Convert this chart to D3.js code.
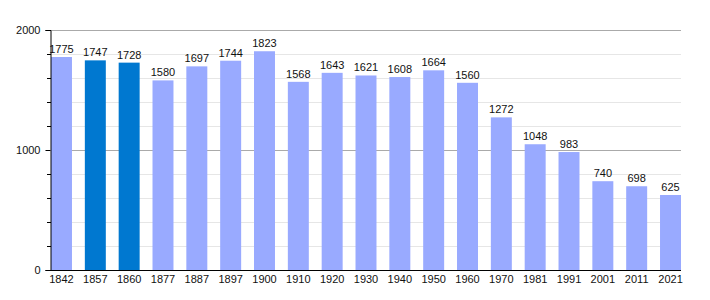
<!DOCTYPE html>
<html>
<head>
<meta charset="utf-8">
<script src="https://cdn.jsdelivr.net/npm/d3@7"></script>
<style>
  body { margin: 0; background: #fff; }
  svg text { font-family: "Liberation Sans", Arial, sans-serif; font-size: 11px; fill: #111; }
</style>
</head>
<body>
<svg id="chart" width="710" height="300"></svg>
<script>
// census years and population
const years = ['1842', '1857', '1860', '1877', '1887', '1897', '1900', '1910', '1920', '1930',
    '1940', '1950', '1960', '1970', '1981', '1991', '2001', '2011', '2021']
const population = [1775, 1747, 1728, 1580, 1697, 1744, 1823, 1568, 1643, 1621,
    1608, 1664, 1560, 1272, 1048, 983, 740, 698, 625]
const highlighted = ['1857', '1860']
const yTicks = [0, 1000, 2000]
const yMinor = [200, 400, 600, 800, 1200, 1400, 1600, 1800]

const svg = d3.select('#chart')
const plotLeft = 51, plotRight = 681, plotTop = 30, plotBottom = 270

let x = d3.scaleBand().domain(years).range([plotLeft, plotRight]).paddingInner(0.38).paddingOuter(0)
let y = d3.scaleLinear().domain([0, 2000]).range([plotBottom, plotTop])

// minor gridlines
svg.append('g').selectAll('line')
    .data(yMinor).enter().append('line')
    .attr('x1', plotLeft).attr('x2', plotRight)
    .attr('y1', d => y(d) + 0.5).attr('y2', d => y(d) + 0.5)
    .style('stroke', '#e6e6e6').style('stroke-width', 1)

// major gridlines
svg.append('g').selectAll('line')
    .data([1000, 2000]).enter().append('line')
    .attr('x1', plotLeft).attr('x2', plotRight)
    .attr('y1', d => y(d) + 0.5).attr('y2', d => y(d) + 0.5)
    .style('stroke', '#aaaaaa').style('stroke-width', 1)

// bars
svg.append('g').selectAll('rect')
    .data(years).enter().append('rect')
    .attr('x', d => x(d))
    .attr('width', x.bandwidth())
    .attr('y', (d, i) => y(population[i]))
    .attr('height', (d, i) => plotBottom - y(population[i]))
    .style('fill', d => highlighted.includes(d) ? '#0078d0' : '#99aaff')

// value labels
svg.append('g').selectAll('text')
    .data(years).enter().append('text')
    .attr('x', d => x(d) + x.bandwidth() / 2)
    .attr('y', (d, i) => y(population[i]) - 4)
    .attr('text-anchor', 'middle')
    .text((d, i) => population[i])

// y axis
let yAxis = d3.axisLeft(y).tickValues(yTicks).tickFormat(d3.format('d')).tickSize(5).tickPadding(5)
let yg = svg.append('g').attr('transform', `translate(${plotLeft - 0.5},0)`).call(yAxis)
yg.select('.domain').style('stroke', '#000')
yg.selectAll('.tick line').style('stroke', '#000')
yg.selectAll('text').style('font-size', '11px')

// minor ticks on y axis
svg.append('g').selectAll('line')
    .data(yMinor).enter().append('line')
    .attr('x1', plotLeft - 4).attr('x2', plotLeft)
    .attr('y1', d => y(d) + 0.5).attr('y2', d => y(d) + 0.5)
    .style('stroke', '#000')

// x axis
let xAxis = d3.axisBottom(x).tickSize(0).tickPadding(5)
let xg = svg.append('g').attr('transform', `translate(0,${plotBottom + 0.5})`).call(xAxis)
xg.select('.domain').attr('d', `M${plotLeft - 1},0H${plotRight}`).style('stroke', '#000')
xg.selectAll('text').style('font-size', '11px')
</script>
</body>
</html>
